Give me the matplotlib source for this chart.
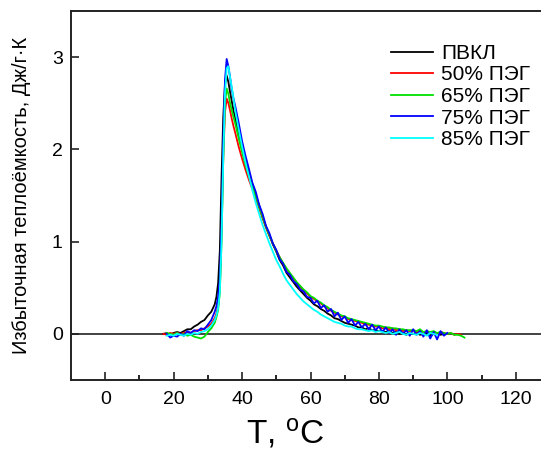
import numpy as np
import matplotlib
matplotlib.use("Agg")
import matplotlib.pyplot as plt

plt.rcParams["font.family"] = ["Liberation Sans", "DejaVu Sans"]
plt.rcParams["mathtext.default"] = "regular"

nan = np.nan

# Temperature grid, °C
temperature = [
    17, 18, 19, 20, 21, 22, 23, 24, 25, 26, 27, 28, 29, 30, 31, 32,
    32.5, 33, 33.5, 34, 34.5, 35, 35.5, 36, 36.5, 37, 37.5, 38,
    39, 40, 41, 42, 43, 44, 45, 46, 47, 48,
    49, 50, 51, 52, 53, 54, 55, 56, 57, 58,
    59, 60, 61, 62, 63, 64, 65, 66, 67, 68,
    69, 70, 71, 72, 73, 74, 75, 76, 77, 78,
    79, 80, 81, 82, 83, 84, 85, 86, 87, 88,
    89, 90, 91, 92, 93, 94, 95, 96, 97, 98,
    99, 100, 101, 102, 103, 104, 105,
]

# Excess heat capacity, J/(g·K)
cp_pvcl = [
    0.00, 0.01, -0.01, 0.01, 0.02, 0.01, 0.03, 0.05, 0.05, 0.08, 0.10, 0.13, 0.15, 0.20, 0.24, 0.32,
    0.40, 0.55, 0.90, 1.70, 2.35, 2.70, 2.80, 2.73, 2.62, 2.52, 2.42, 2.34,
    2.17, 2.02, 1.87, 1.74, 1.62, 1.50, 1.39, 1.27, 1.16, 1.07,
    0.97, 0.89, 0.80, 0.74, 0.66, 0.61, 0.56, 0.51, 0.47, 0.43,
    0.39, 0.36, 0.32, 0.30, 0.27, 0.25, 0.22, 0.20, 0.17, 0.16,
    0.14, 0.12, 0.11, 0.10, 0.09, 0.07, 0.07, 0.05, 0.06, 0.04,
    0.04, 0.03, 0.03, 0.02, 0.03, 0.01, 0.02, 0.00, 0.01, -0.01,
    0.01, 0.00, 0.01, -0.01, 0.00, 0.01, -0.02, 0.00, 0.01, -0.01,
    0.00, nan, nan, nan, nan, nan, nan,
]

cp_peg50 = [
    0.00, -0.01, 0.01, 0.00, 0.01, 0.00, 0.01, 0.02, 0.01, 0.03, 0.04, 0.04, 0.06, 0.08, 0.11, 0.17,
    0.22, 0.30, 0.50, 1.10, 1.90, 2.40, 2.55, 2.50, 2.42, 2.33, 2.25, 2.18,
    2.03, 1.90, 1.78, 1.67, 1.57, 1.47, 1.36, 1.25, 1.15, 1.06,
    0.98, 0.90, 0.83, 0.76, 0.70, 0.65, 0.60, 0.55, 0.51, 0.47,
    0.44, 0.40, 0.38, 0.35, 0.33, 0.30, 0.28, 0.25, 0.23, 0.21,
    0.19, 0.18, 0.16, 0.15, 0.14, 0.13, 0.12, 0.10, 0.10, 0.09,
    0.08, 0.08, 0.06, 0.07, 0.05, 0.06, 0.04, 0.05, 0.03, 0.04,
    0.03, 0.04, 0.02, 0.03, 0.01, 0.03, 0.01, 0.02, 0.00, 0.02,
    0.01, 0.00, 0.01, -0.01, 0.00, -0.01, nan,
]

cp_peg65 = [
    nan, 0.01, 0.00, -0.01, 0.01, -0.01, 0.00, -0.02, -0.01, -0.03, -0.04, -0.05, -0.03, 0.02, 0.06, 0.12,
    0.18, 0.26, 0.45, 1.00, 1.90, 2.50, 2.66, 2.60, 2.50, 2.42, 2.35, 2.28,
    2.12, 1.97, 1.83, 1.71, 1.60, 1.49, 1.38, 1.27, 1.16, 1.07,
    0.98, 0.90, 0.83, 0.77, 0.71, 0.66, 0.61, 0.56, 0.52, 0.48,
    0.45, 0.41, 0.39, 0.36, 0.34, 0.31, 0.29, 0.26, 0.24, 0.22,
    0.20, 0.19, 0.17, 0.16, 0.15, 0.14, 0.13, 0.12, 0.11, 0.10,
    0.09, 0.09, 0.08, 0.07, 0.07, 0.06, 0.06, 0.05, 0.05, 0.04,
    0.04, 0.04, 0.03, 0.05, 0.02, 0.03, 0.02, 0.03, 0.01, 0.02,
    0.01, 0.00, 0.01, -0.01, -0.01, -0.02, -0.04,
]

cp_peg75 = [
    nan, 0.00, -0.04, -0.02, -0.03, 0.00, -0.02, 0.03, 0.01, 0.04, 0.03, 0.06, 0.05, 0.10, 0.15, 0.24,
    0.30, 0.40, 0.60, 1.20, 2.10, 2.75, 2.98, 2.90, 2.78, 2.65, 2.55, 2.47,
    2.29, 2.09, 1.93, 1.79, 1.64, 1.54, 1.40, 1.30, 1.17, 1.09,
    0.98, 0.91, 0.81, 0.76, 0.67, 0.64, 0.57, 0.54, 0.48, 0.46,
    0.40, 0.39, 0.33, 0.36, 0.28, 0.31, 0.24, 0.27, 0.19, 0.23,
    0.15, 0.19, 0.12, 0.16, 0.09, 0.13, 0.07, 0.11, 0.05, 0.10,
    0.04, 0.08, 0.02, 0.07, 0.01, 0.05, -0.01, 0.05, 0.00, 0.04,
    -0.02, 0.05, -0.01, 0.03, -0.03, 0.04, -0.05, 0.02, -0.06, 0.03,
    -0.02, 0.01, nan, nan, nan, nan, nan,
]

cp_peg85 = [
    nan, -0.02, -0.01, -0.02, 0.00, -0.01, -0.02, 0.00, -0.01, 0.01, 0.00, 0.02, 0.03, 0.05, 0.09, 0.15,
    0.20, 0.28, 0.45, 1.00, 1.90, 2.60, 2.88, 2.90, 2.78, 2.67, 2.55, 2.42,
    2.22, 2.03, 1.86, 1.71, 1.56, 1.42, 1.30, 1.18, 1.08, 0.98,
    0.89, 0.80, 0.73, 0.65, 0.58, 0.53, 0.48, 0.43, 0.39, 0.35,
    0.32, 0.29, 0.26, 0.24, 0.21, 0.19, 0.17, 0.15, 0.13, 0.12,
    0.11, 0.09, 0.08, 0.08, 0.06, 0.05, 0.05, 0.04, 0.03, 0.04,
    0.02, 0.03, 0.02, 0.01, 0.02, 0.00, 0.01, 0.02, 0.00, -0.01,
    0.01, 0.00, -0.01, 0.01, 0.00, -0.02, 0.01, 0.00, -0.01, nan,
    nan, nan, nan, nan, nan, nan, nan,
]

series_labels = ["ПВКЛ", "50% ПЭГ", "65% ПЭГ", "75% ПЭГ", "85% ПЭГ"]
series_values = [cp_pvcl, cp_peg50, cp_peg65, cp_peg75, cp_peg85]
series_colors = ["#000000", "#ff0000", "#00e000", "#0000ff", "#00ffff"]

fig = plt.figure(figsize=(5.41, 4.51), dpi=100)
W, H = 541, 451
left, right, top, bottom = 71, 550, 11, 380
ax = fig.add_axes([left / W, 1 - bottom / H, (right - left) / W, (bottom - top) / H])

ax.axhline(0, color="#222222", lw=1.2, zorder=1)

handles = []
for lab, vals, col in zip(series_labels, series_values, series_colors):
    (ln,) = ax.plot(temperature, vals, color=col, lw=1.3, label=lab, zorder=2)
    handles.append(ln)

ax.set_xlim(-10, 130)
ax.set_ylim(-0.5, 3.5)
ax.set_xticks([0, 20, 40, 60, 80, 100, 120])
ax.set_xticks([10, 30, 50, 70, 90, 110], minor=True)
ax.set_yticks([0, 1, 2, 3])

for s in ax.spines.values():
    s.set_linewidth(1.4)
    s.set_color("#222222")

ax.tick_params(axis="both", which="major", direction="in", length=6,
               width=1.2, labelsize=14, color="#222222")
ax.tick_params(axis="x", which="major", pad=8)
ax.tick_params(axis="y", which="major", pad=6)
ax.tick_params(axis="x", which="minor", direction="in", length=3.5, width=1.2)

ax.set_ylabel("Избыточная теплоёмкость, Дж/г·К", fontsize=14.5)
ax.yaxis.set_label_coords(-0.084, 0.5)
fig.text(285 / W, 1 - 433 / H, r"T, $^{o}$C", fontsize=24,
         ha="center", va="center")

leg = fig.legend(handles=handles, loc="upper left",
                 bbox_to_anchor=(391 / W, 1 - 44 / H),
                 frameon=False, fontsize=15, handlelength=2.0,
                 handletextpad=0.4, labelspacing=0.12, borderpad=0,
                 borderaxespad=0)

fig.savefig("out.png", dpi=100)
